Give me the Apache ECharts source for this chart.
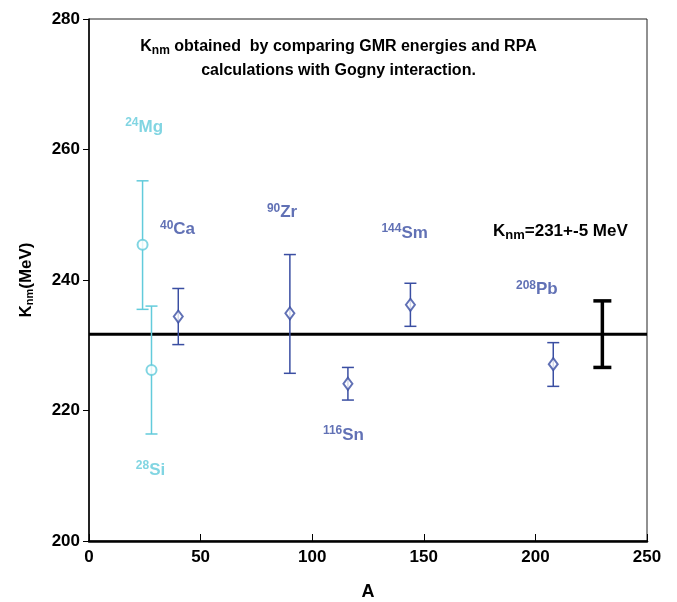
<!DOCTYPE html>
<html><head><meta charset="utf-8">
<script src="https://cdn.jsdelivr.net/npm/echarts@6/dist/echarts.min.js"></script>
<style>html,body{margin:0;padding:0;background:#fff}#c{width:677px;height:602px}</style>
</head><body><div id="c"></div>
<script>
// ---- data ----
const nuclei   = ['Mg', 'Si', 'Ca', 'Zr', 'Sn', 'Sm', 'Pb'];
const massNum  = ['24', '28', '40', '90', '116', '144', '208'];
const massA    = [24, 28, 40, 90, 116, 144, 208];
const knm      = [245.4, 226.2, 234.4, 234.9, 224.1, 236.2, 227.1];
const errLow   = [235.5, 216.4, 230.1, 225.7, 221.6, 232.9, 223.7];
const errHigh  = [255.2, 236.0, 238.7, 243.9, 226.6, 239.5, 230.4];
const group    = ['light', 'light', 'dark', 'dark', 'dark', 'dark', 'dark'];
const labelX   = [16.2, 21.0, 31.8, 79.7, 104.8, 131.0, 191.3];
const labelY   = [263.4, 210.9, 247.7, 250.3, 216.2, 247.2, 238.5];
const avgK     = 231.7;
const avgA     = 230;
const avgLow   = 226.6;
const avgHigh  = 236.8;
const avgLabel = { x: 181, y: 247.4 };
const xTicks   = [0, 50, 100, 150, 200, 250];
const yTicks   = [200, 220, 240, 260, 280];

const colors = { light: '#62cbdb', dark: '#3a4ea2' };
const FONT = 'Liberation Sans';

function pick(g) {
  const idx = [];
  group.forEach((v, i) => { if (v === g) idx.push(i); });
  return idx;
}

function errRender(capHalf, lw) {
  return function (params, api) {
    const x = api.value(0), lo = api.value(1), hi = api.value(2);
    const a = api.coord([x, lo]), b = api.coord([x, hi]);
    const st = { stroke: api.visual('color'), lineWidth: lw };
    return {
      type: 'group',
      children: [
        { type: 'line', shape: { x1: a[0], y1: a[1], x2: b[0], y2: b[1] }, style: st },
        { type: 'line', shape: { x1: a[0] - capHalf, y1: a[1], x2: a[0] + capHalf, y2: a[1] }, style: st },
        { type: 'line', shape: { x1: b[0] - capHalf, y1: b[1], x2: b[0] + capHalf, y2: b[1] }, style: st }
      ]
    };
  };
}

const series = [];
['light', 'dark'].forEach(g => {
  const idx = pick(g);
  series.push({
    type: 'custom', name: g + '-err', color: colors[g],
    renderItem: errRender(6, 1.5),
    data: idx.map(i => [massA[i], errLow[i], errHigh[i]]),
    z: 3
  });
  series.push({
    type: 'scatter', name: g + '-pts',
    symbol: g === 'light' ? 'emptyCircle' : 'emptyDiamond',
    symbolSize: g === 'light' ? 10 : [9, 12],
    itemStyle: { color: colors[g], borderColor: colors[g], borderWidth: 1.5 },
    data: idx.map(i => [massA[i], knm[i]]),
    z: 4
  });
  series.push({
    type: 'scatter', name: g + '-labels', symbolSize: 0, silent: true,
    data: idx.map(i => ({ value: [labelX[i], labelY[i]], sup: massNum[i], el: nuclei[i] })),
    label: {
      show: true, position: 'right', distance: 0, color: colors[g],
      formatter: p => '{s|' + p.data.sup + '}{e|' + p.data.el + '}',
      rich: {
        s: { fontFamily: FONT, fontWeight: 'bold', fontSize: 12, color: colors[g], padding: [0, 0, 9, 0] },
        e: { fontFamily: FONT, fontWeight: 'bold', fontSize: 17, color: colors[g] }
      }
    },
    z: 5
  });
});

// average line & bar
series.push({
  type: 'line', name: 'avg', data: [[0, avgK], [250, avgK]],
  symbol: 'none', lineStyle: { color: '#000', width: 3 }, z: 2
});
series.push({
  type: 'custom', name: 'avg-err', color: '#000',
  renderItem: errRender(9, 3.5),
  data: [[avgA, avgLow, avgHigh]], z: 3
});
series.push({
  type: 'scatter', name: 'avg-label', symbolSize: 0, silent: true,
  itemStyle: { color: '#000', opacity: 1 },
  data: [[avgLabel.x, avgLabel.y]],
  label: {
    show: true, position: 'right', distance: 0, color: '#000', opacity: 1,
    formatter: '{a|K}{b|nm}{a|=231+-5 MeV}',
    rich: {
      a: { fontFamily: FONT, fontWeight: 'bold', fontSize: 17, color: '#000' },
      b: { fontFamily: FONT, fontWeight: 'bold', fontSize: 13, color: '#000', padding: [7, 0, 0, 0] }
    }
  },
  z: 5
});

const chart = echarts.init(document.getElementById('c'), null, { renderer: 'canvas' });
chart.setOption({
  animation: false,
  backgroundColor: '#fff',
  title: {
    text: '{a|K}{b|nm}{a| obtained  by comparing GMR energies and RPA}\n{a|calculations with Gogny interaction.}',
    left: 'center', top: 30,
    textStyle: {
      align: 'center',
      rich: {
        a: { fontFamily: FONT, fontWeight: 'bold', fontSize: 16, color: '#000', lineHeight: 24, align: 'center' },
        b: { fontFamily: FONT, fontWeight: 'bold', fontSize: 12, color: '#000', padding: [7, 0, 0, 0], lineHeight: 24 }
      }
    }
  },
  grid: { left: 89, right: 30, top: 19, bottom: 61, show: true, borderColor: '#222', borderWidth: 1,
          containLabel: false, outerBoundsMode: 'none' },
  xAxis: {
    type: 'value', min: xTicks[0], max: xTicks[xTicks.length - 1], interval: 50,
    name: 'A', nameLocation: 'middle', nameGap: 42,
    nameTextStyle: { fontFamily: FONT, fontWeight: 'bold', fontSize: 18, color: '#000' },
    axisLine: { lineStyle: { color: '#000', width: 2.5 } },
    axisTick: { inside: true, length: 7, lineStyle: { color: '#000', width: 1 } },
    axisLabel: { fontFamily: FONT, fontWeight: 'bold', fontSize: 17, color: '#000', margin: 8 },
    splitLine: { show: false }
  },
  yAxis: {
    type: 'value', min: yTicks[0], max: yTicks[yTicks.length - 1], interval: 20,
    name: '{a|K}{b|nm}{a|(MeV)}', nameLocation: 'middle', nameGap: 54, nameRotate: 90,
    nameTextStyle: {
      rich: {
        a: { fontFamily: FONT, fontWeight: 'bold', fontSize: 17, color: '#000' },
        b: { fontFamily: FONT, fontWeight: 'bold', fontSize: 11, color: '#000', padding: [7, 0, 0, 0] }
      }
    },
    axisLine: { lineStyle: { color: '#000', width: 1.5 } },
    axisTick: { inside: false, length: 6, lineStyle: { color: '#000', width: 1 } },
    axisLabel: { fontFamily: FONT, fontWeight: 'bold', fontSize: 17, color: '#000', margin: 9 },
    splitLine: { show: false }
  },
  series: series
});
</script></body></html>
